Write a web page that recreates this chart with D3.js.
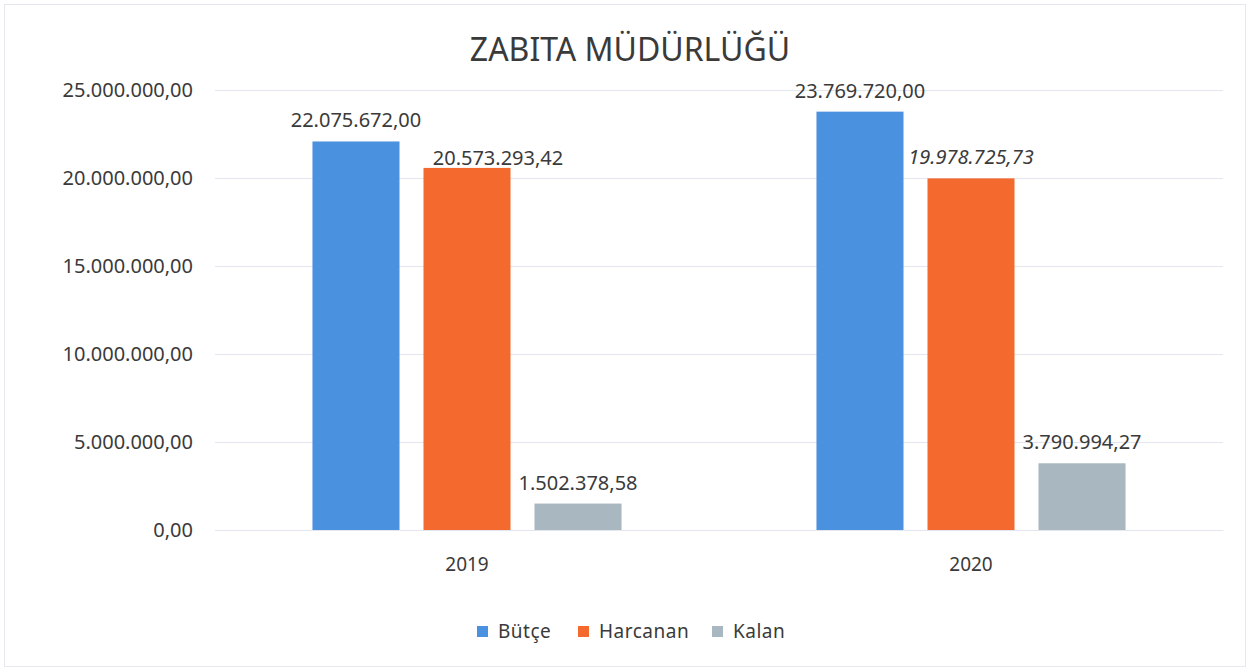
<!DOCTYPE html>
<html>
<head>
<meta charset="utf-8">
<script src="https://cdn.jsdelivr.net/npm/d3@7"></script>
<style>
  body { margin: 0; background: #fff; }
  svg { display: block; }
  svg text { font-family: "Noto Sans", "Open Sans", sans-serif; }
</style>
</head>
<body>
<svg id="chart" width="1250" height="671"></svg>
<script>
const title = "ZABITA MÜDÜRLÜĞÜ";
const years = ["2019", "2020"];
const series = ["Bütçe", "Harcanan", "Kalan"];
const butce = [22075672.00, 23769720.00];
const harcanan = [20573293.42, 19978725.73];
const kalan = [1502378.58, 3790994.27];
const yTicks = [0, 5000000, 10000000, 15000000, 20000000, 25000000];

const colors = { "Bütçe": "#4a91e0", "Harcanan": "#f46a2e", "Kalan": "#a9b8c0" };

// label nudges the original had (the 2019 Harcanan label sits off to the right)
const labelShift = { "2019|Harcanan": [31, 11] };
const italicLabels = ["2020|Harcanan"];

const rows = years.map((y, i) => ({
  year: y,
  values: [
    { key: "Bütçe", value: butce[i] },
    { key: "Harcanan", value: harcanan[i] },
    { key: "Kalan", value: kalan[i] }
  ]
}));

const trFormat = d3.formatLocale({
  decimal: ",", thousands: ".", grouping: [3], currency: ["", " ₺"]
}).format(",.2f");

const svg = d3.select("#chart");
const margin = { left: 215, right: 27, top: 90, bottom: 141 };
const W = 1250, H = 671;

svg.append("rect")
  .attr("x", 4.5).attr("y", 4.5)
  .attr("width", W - 9).attr("height", H - 9)
  .attr("fill", "none")
  .attr("stroke", "#e6e8ee");

const x0 = d3.scaleBand()
  .domain(years)
  .range([margin.left, W - margin.right]);

const x1 = d3.scaleBand()
  .domain(series)
  .range([0, x0.bandwidth()])
  .paddingInner(0.216)
  .paddingOuter(0.878);

const y = d3.scaleLinear()
  .domain([0, 25000000])
  .range([H - margin.bottom, margin.top]);

// gridlines + y labels
const yAxis = svg.append("g")
  .attr("transform", `translate(${margin.left},0)`)
  .call(d3.axisLeft(y).tickValues(yTicks).tickFormat(trFormat)
    .tickSize(-(W - margin.left - margin.right)).tickPadding(22));
yAxis.attr("font-family", null);
yAxis.select(".domain").remove();
yAxis.selectAll(".tick line").attr("stroke", "#e4e6ef").attr("stroke-width", 1);
yAxis.selectAll(".tick text")
  .attr("fill", "#3a3a3a")
  .style("font-size", "20px");

// bars
const groups = svg.append("g").selectAll("g")
  .data(rows)
  .join("g")
  .attr("transform", d => `translate(${x0(d.year)},0)`);

groups.selectAll("rect")
  .data(d => d.values)
  .join("rect")
  .attr("x", d => x1(d.key))
  .attr("y", d => y(d.value))
  .attr("width", x1.bandwidth())
  .attr("height", d => y(0) - y(d.value))
  .attr("fill", d => colors[d.key]);

groups.each(function(row) {
  d3.select(this).selectAll("text.val")
    .data(row.values)
    .join("text")
    .attr("class", "val")
    .attr("x", d => x1(d.key) + x1.bandwidth() / 2 + ((labelShift[row.year + "|" + d.key] || [0, 0])[0]))
    .attr("y", d => y(d.value) - 14 + ((labelShift[row.year + "|" + d.key] || [0, 0])[1]))
    .attr("text-anchor", "middle")
    .attr("fill", "#3a3a3a")
    .style("font-size", "20px")
    .style("font-style", d => italicLabels.includes(row.year + "|" + d.key) ? "italic" : "normal")
    .text(d => trFormat(d.value));
});

// x axis labels
const xAxis = svg.append("g")
  .attr("transform", `translate(0,${y(0)})`)
  .call(d3.axisBottom(x0).tickSize(0).tickPadding(28));
xAxis.attr("font-family", null);
xAxis.select(".domain").attr("stroke", "#e4e6ef");
xAxis.selectAll(".tick text")
  .attr("fill", "#3a3a3a")
  .style("font-size", "19px");

// title
svg.append("text")
  .attr("x", 630).attr("y", 61)
  .attr("text-anchor", "middle")
  .attr("fill", "#3a3a3a")
  .style("font-size", "32px")
  .text(title);

// legend
const legendX = [477, 578, 712];
const legend = svg.append("g").selectAll("g")
  .data(series)
  .join("g")
  .attr("transform", (d, i) => `translate(${legendX[i]},626)`);
legend.append("rect")
  .attr("width", 11).attr("height", 11)
  .attr("fill", d => colors[d]);
legend.append("text")
  .attr("x", 21).attr("y", 12)
  .attr("fill", "#3a3a3a")
  .style("font-size", "19px")
  .style("letter-spacing", "0.5px")
  .text(d => d);
</script>
</body>
</html>
